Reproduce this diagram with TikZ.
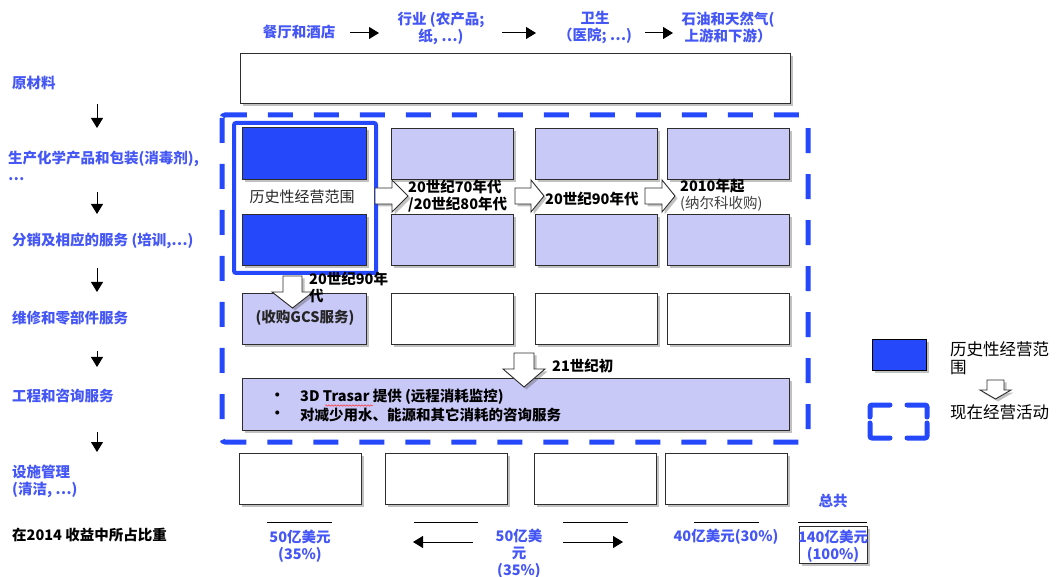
\documentclass[tikz,border=0pt]{standalone}
\usepackage{fontspec}
\setmainfont{Noto Sans CJK SC}
\usetikzlibrary{shadows,arrows.meta,decorations.pathmorphing}
\definecolor{lab}{RGB}{68,86,245}
\definecolor{hist}{RGB}{36,72,250}
\definecolor{lav}{RGB}{201,201,248}
\definecolor{edge}{RGB}{45,45,45}
\begin{document}
\begin{tikzpicture}[x=1pt,y=-1pt,
  every node/.style={font=\fontsize{14.5}{17}\selectfont\bfseries, inner sep=0pt},
  lbl/.style={text=lab, align=left, anchor=west},
  hdr/.style={text=lab, align=center},
  shad/.style={drop shadow={shadow xshift=2.5pt,shadow yshift=-2.5pt,opacity=0.35,fill=black!70}},
  cell/.style={draw=edge, line width=1pt, minimum width=122pt, minimum height=51pt, shad},
  lavcell/.style={cell, fill=lav},
  whitecell/.style={cell, fill=white},
  histcell/.style={cell, fill=hist},
  thin/.style={line width=1pt, -{Triangle[length=10pt,width=12pt]}},
  barrow/.style={draw=edge, fill=white, line width=0.9pt, line join=miter, shad},
  pics/blockarrow/.style args={#1/#2/#3/#4}{code={
    \draw[barrow] (0,-#2) -- ({#1-#4},-#2) -- ({#1-#4},-#3) -- (#1,0) -- ({#1-#4},#3) -- ({#1-#4},#2) -- (0,#2) -- cycle;
  }}
]
\useasboundingbox (0,0) rectangle (1058,577);

% ---------- header row ----------
\node[hdr] (h1) at (299,32) {餐厅和酒店};
\node[hdr] (h2) at (441,28) {行业 (农产品;\\纸, …)};
\node[hdr] (h3) at (595,27) {卫生\\（医院; …)};
\node[hdr] (h4) at (728,27) {石油和天然气(\\上游和下游）};
\coordinate (ha1) at (350,33); \coordinate (hb1) at (379,33);
\coordinate (ha2) at (502,33); \coordinate (hb2) at (536,33);
\coordinate (ha3) at (645,33); \coordinate (hb3) at (673,33);
\draw[thin] (ha1) -- (hb1);
\draw[thin] (ha2) -- (hb2);
\draw[thin] (ha3) -- (hb3);

% ---------- left labels ----------
\node[lbl] (l1) at (12,83) {原材料};
\node[lbl] (l2) at (8,166) {生产化学产品和包装(消毒剂),\\…};
\node[lbl] (l3) at (12,241) {分销及相应的服务 (培训,…)};
\node[lbl] (l4) at (12,318) {维修和零部件服务};
\node[lbl] (l5) at (12,396) {工程和咨询服务};
\node[lbl] (l6) at (12,481) {设施管理\\(清洁, …)};
\node[anchor=west] (l7) at (12,535) {在2014 收益中所占比重};
\foreach \i/\a/\b in {1/104/128, 2/192/214, 3/268/292, 4/351/367, 5/432/452}{
  \coordinate (va\i) at (97,\a); \coordinate (vb\i) at (97,\b);
  \draw[thin] (va\i) -- (vb\i);
}

% ---------- top wide box ----------
\node[whitecell, minimum width=550pt, minimum height=50pt] (top) at (515,79) {};

% ---------- current activities (dashed) ----------
\draw[hist, line width=5pt, dash pattern=on 25pt off 21pt, dash phase=0pt, rounded corners=3pt]
  (222,115) rectangle (808,442);

% ---------- rows ----------
\node[histcell, minimum width=124pt, minimum height=52pt] (r1c1) at (304,154) {};
\node[lavcell] (r1c2) at (452,154) {};
\node[lavcell] (r1c3) at (596.5,154) {};
\node[lavcell] (r1c4) at (728,154) {};

\node[histcell, minimum width=124pt] (r2c1) at (304,240.5) {};
\node[lavcell] (r2c2) at (452,240.5) {};
\node[lavcell] (r2c3) at (596.5,240.5) {};
\node[lavcell] (r2c4) at (728,240.5) {};

% historical scope frame
\draw[hist, line width=4pt, rounded corners=2pt] (234,123) rectangle (376,273);
\node[text=black!85, font=\fontsize{15}{17}\selectfont\mdseries] (histlbl) at (302,197) {历史性经营范围};

\node[lavcell, minimum width=124pt, text=black!85] (r3c1) at (304,319.5) {};
\node[whitecell] (r3c2) at (452,319.5) {};
\node[whitecell] (r3c3) at (596.5,319.5) {};
\node[whitecell] (r3c4) at (728,319.5) {};

\node[lavcell, minimum width=547pt] (r4) at (515.5,404.5) {};
\node[anchor=west] (b1) at (270,397) {•};
\node[anchor=west] (b2) at (270,415) {•};
\node[anchor=west] (t1) at (300,397) {3D Trasar 提供 (远程消耗监控)};
\node[anchor=west] (t2) at (300,415) {对减少用水、能源和其它消耗的咨询服务};
\draw[red!80, line width=0.5pt, decorate, decoration={snake, amplitude=0.8pt, segment length=3pt}] (325,405.5) -- (373,405.5);

\node[whitecell] (r5c1) at (300,478.5) {};
\node[whitecell] (r5c2) at (446,478.5) {};
\node[whitecell] (r5c3) at (595.5,478.5) {};
\node[whitecell] (r5c4) at (726.5,478.5) {};

% ---------- block arrows ----------
\pic at (375,196) {blockarrow=33/8/16/16};
\pic at (515,196) {blockarrow=29/8/16/13};
\pic at (645,196) {blockarrow=30/8/16/13};
\pic[rotate=-90] at (292.5,276) {blockarrow=32/9.5/20.5/16};
\pic[rotate=-90] at (524,353) {blockarrow=34/10/21/18};

\node[text=black!85] (gcs) at (305,318) {(收购GCS服务)};
\node[anchor=north west, align=left] (e1) at (408,180) {20世纪70年代\\/20世纪80年代};
\node[anchor=west] (e2) at (545,199) {20世纪90年代};
\node[anchor=north west, align=left] (e3) at (680,179) {2010年起\\{\mdseries\color{black!75}(纳尔科收购)}};
\node[anchor=north west, align=left] (e4) at (309,272) {20世纪90年\\代};
\node[anchor=west] (e5) at (552,366) {21世纪初};

% ---------- bottom shares ----------
\foreach \i/\a/\b in {1/267/332, 2/414/478, 3/563/628, 4/694/759, 5/798/867}{
  \coordinate (sa\i) at (\a,522); \coordinate (sb\i) at (\b,522);
  \draw[line width=1pt] (sa\i) -- (sb\i);
}
\node[hdr] (v1) at (300,546) {50亿美元\\(35\%)};
\node[hdr] (v2) at (519,554) {50亿美\\元\\(35\%)};
\node[hdr] (v3) at (726,537) {40亿美元(30\%)};
\node[hdr] (tot) at (833,501) {总共};
\node[draw=edge, line width=1pt, fill=white, shad, minimum width=68pt, minimum height=37pt] (vbox) at (833,544.5) {};
\node[hdr] (v4) at (833,546) {140亿美元\\(100\%)};
\coordinate (la) at (473,542); \coordinate (lb) at (413,542);
\coordinate (ra) at (563,542); \coordinate (rb) at (623,542);
\draw[thin] (la) -- (lb);
\draw[thin] (ra) -- (rb);

% ---------- legend ----------
\node[draw=black, line width=1pt, fill=hist, shad, minimum width=54pt, minimum height=31pt] (leg1) at (899,355.5) {};
\node[anchor=north west, align=left, font=\fontsize{16.5}{18}\selectfont\mdseries] (leg1t) at (950,341) {历史性经营范\\围};
\pic[rotate=-90] at (995.5,380) {blockarrow=19/8.5/15.5/9};
\begin{scope}[hist, line width=5pt, line cap=round, rounded corners=2pt]
  \draw (890,405) -- (870,405) -- (870,417);
  \draw (907,405) -- (927,405) -- (927,417);
  \draw (870,423) -- (870,438) -- (890,438);
  \draw (927,423) -- (927,438) -- (907,438);
\end{scope}
\node[anchor=west, font=\fontsize{16.5}{18}\selectfont\mdseries] (leg2t) at (950,412) {现在经营活动};
\end{tikzpicture}
\end{document}
